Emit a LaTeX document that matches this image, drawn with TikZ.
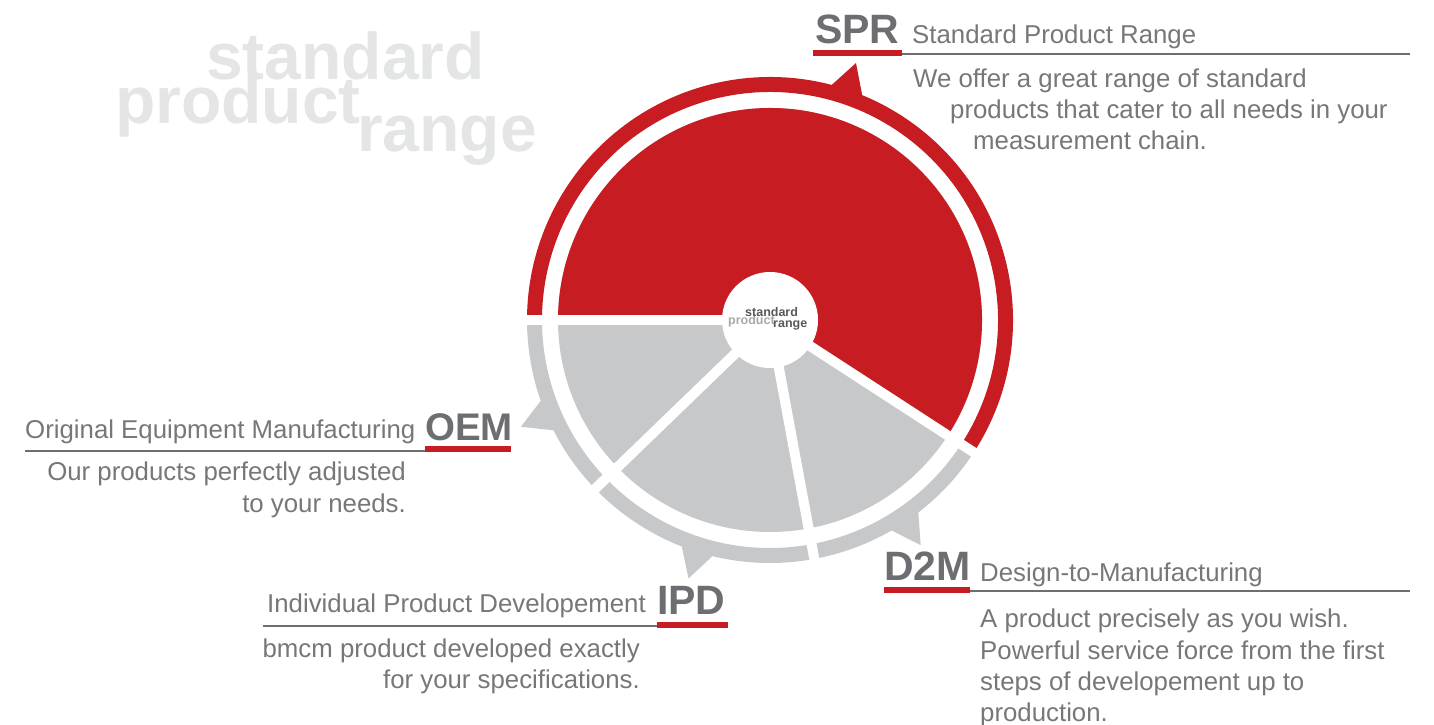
\documentclass[tikz,border=0pt]{standalone}
\usepackage{fontspec}
\setmainfont{Liberation Sans}
\definecolor{bred}{HTML}{C71C22}
\definecolor{pgray}{HTML}{C7C8CA}
\definecolor{tgray}{HTML}{6D6E71}
\definecolor{dgray}{HTML}{76777A}
\definecolor{wgray}{HTML}{E4E5E6}
\definecolor{lgray}{HTML}{A7A9AC}
\definecolor{cgray}{HTML}{58595B}
\begin{document}
\begin{tikzpicture}[x=1pt,y=1pt,
  abbr/.style={anchor=base west, inner sep=0, text=tgray, font=\fontsize{41}{41}\selectfont\bfseries},
  ttl/.style={anchor=base west, inner sep=0, text=dgray, font=\fontsize{25.8}{30}\selectfont},
  descw/.style={anchor=base west, inner sep=0, text=dgray, font=\fontsize{25.8}{30}\selectfont},
  desce/.style={anchor=base east, inner sep=0, text=dgray, font=\fontsize{25.8}{30}\selectfont},
  rulel/.style={draw=tgray, line width=2},
  redbar/.style={draw=bred, line width=6},
  divider/.style={draw=white, line width=10},
  wmark/.style={anchor=base west, inner sep=0, text=wgray, font=\fontsize{66}{66}\selectfont\bfseries},
  logo/.style={anchor=base west, inner sep=0, font=\fontsize{12.5}{12.5}\selectfont\bfseries},
]
\useasboundingbox (0,0) rectangle (1434,724);

% watermark
\node[wmark] (wm1) at (206,644) {standard};
\node[wmark] (wm2) at (115,600) {product};
\node[wmark] (wm3) at (357,572) {range};

\coordinate (C) at (770,404);
\begin{scope}[shift={(C)}]
  % pie
  \fill[pgray] (0,0) circle[radius=212];
  \fill[bred] (0,0) -- (-33:212) arc[start angle=-33, end angle=180, radius=212] -- cycle;
  % ring
  \draw[bred, line width=15] (-33:235.5) arc[start angle=-33, end angle=180, radius=235.5];
  \draw[pgray, line width=15] (-180:235.5) arc[start angle=-180, end angle=-33, radius=235.5];
  % teeth
  \foreach \a/\c in {71.5/bred, -156.8/pgray, -107.5/pgray, -56.2/pgray}{
    \fill[\c] (\a-3.8:243) -- (\a:271) -- (\a+3.8:243) -- (\a+3.8:236) -- (\a-3.8:236) -- cycle;
  }
  % dividers
  \foreach \a in {180,-33,-79.5,-136}{
    \draw[divider] (0,0) -- (\a:262);
  }
  \fill[white] (0,0) circle[radius=48];
\end{scope}

% center logo
\node[logo, text=lgray] (lp) at (728,400) {product};
\node[logo, text=cgray] (ls) at (745,408) {standard};
\node[logo, text=cgray] (lr) at (773,396) {range};

% SPR
\draw[rulel] (900,670) -- (1410,670);
\draw[redbar] (813,671) -- (902,671);
\node[abbr] (spr) at (815,680) {SPR};
\node[ttl] (sprt) at (912,680) {Standard Product Range};
\node[descw] (sprd1) at (913,636) {We offer a great range of standard};
\node[descw] (sprd2) at (950,605) {products that cater to all needs in your};
\node[descw] (sprd3) at (973,574) {measurement chain.};

% OEM
\draw[rulel] (25,273) -- (425,273);
\draw[redbar] (425,275) -- (511,275);
\node[ttl] (oemt) at (25,286) {Original Equipment Manufacturing};
\node[abbr, font=\fontsize{38.5}{38.5}\selectfont\bfseries] (oem) at (425,284) {OEM};
\node[desce] (oemd1) at (406,244) {Our products perfectly adjusted};
\node[desce] (oemd2) at (406,212) {to your needs.};

% IPD
\draw[rulel] (263,98) -- (657,98);
\draw[redbar] (657,99) -- (728,99);
\node[ttl] (ipdt) at (267,112) {Individual Product Developement};
\node[abbr] (ipd) at (657,110) {IPD};
\node[desce] (ipdd1) at (640,67) {bmcm product developed exactly};
\node[desce] (ipdd2) at (640,36) {for your specifications.};

% D2M
\draw[rulel] (970,133) -- (1410,133);
\draw[redbar] (884,134) -- (970,134);
\node[abbr] (d2m) at (884,144) {D2M};
\node[ttl] (d2mt) at (980,143) {Design-to-Manufacturing};
\node[descw] (d2md1) at (980,97) {A product precisely as you wish.};
\node[descw] (d2md2) at (980,65) {Powerful service force from the first};
\node[descw] (d2md3) at (980,34) {steps of developement up to};
\node[descw] (d2md4) at (980,3) {production.};
\end{tikzpicture}
\end{document}
